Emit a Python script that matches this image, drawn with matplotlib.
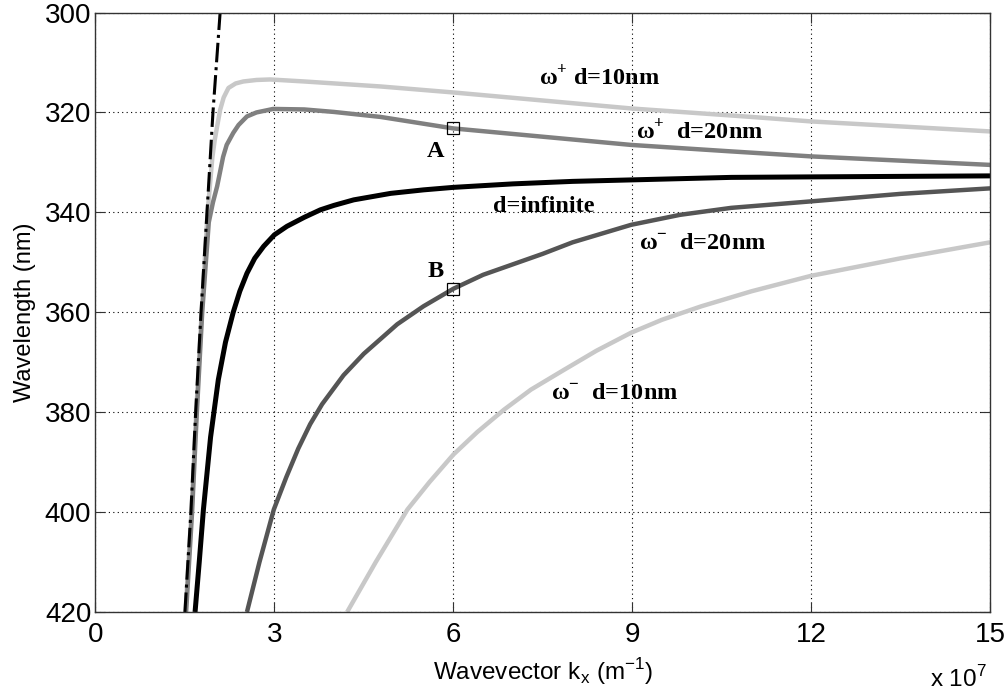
import matplotlib
matplotlib.use("Agg")
import matplotlib.pyplot as plt

# wavevector in units of 1e7 m^-1, wavelength in nm
k_light = [1.50, 1.60, 1.68, 1.77, 1.87, 1.97, 2.09]
wl_light = [420, 400, 380, 360, 340, 320, 300]

k_inf = [1.67, 1.74, 1.81, 1.93, 2.06, 2.18, 2.31, 2.42, 2.54, 2.67, 2.82, 3.0, 3.21, 3.5,
         3.77, 4.0, 4.33, 4.95, 5.5, 6.0, 7.0, 8.0, 9.0, 10.66, 12.0, 15.0]
wl_inf = [420, 410, 399.5, 385, 373.5, 366, 360, 355.8, 352.2, 349.2, 346.8, 344.5, 342.8, 341,
          339.5, 338.6, 337.5, 336.2, 335.5, 335.0, 334.3, 333.8, 333.5, 333.0, 332.9, 332.7]

k_p10 = [1.51, 1.61, 1.69, 1.78, 1.88, 1.96, 2.00, 2.04, 2.09, 2.15, 2.23, 2.35, 2.48, 2.7,
         2.93, 3.5, 4.78, 6.0, 8.98, 11.0, 12.0, 15.0]
wl_p10 = [420, 400, 380, 360, 340, 329, 325.5, 322.8, 319.5, 317, 315.1, 314.2, 313.8, 313.5,
          313.4, 313.8, 314.8, 316.0, 319.2, 320.9, 321.8, 323.8]

k_p20 = [1.52, 1.62, 1.70, 1.79, 1.90, 1.97, 2.04, 2.14, 2.2, 2.31, 2.4, 2.54, 2.7, 2.98,
         3.5, 4.0, 4.78, 6.0, 8.98, 10.66, 12.0, 15.0]
wl_p20 = [420, 400, 380, 360, 342, 338, 334.8, 328.9, 326.5, 324.1, 322.5, 320.8, 320, 319.3,
          319.4, 319.9, 320.9, 323.2, 326.5, 327.8, 328.8, 330.5]

k_m20 = [2.54, 2.75, 2.99, 3.2, 3.4, 3.6, 3.8, 4.16, 4.5, 5.06, 5.5, 6.0, 6.5, 7.5, 8.0,
         8.98, 9.8, 10.66, 12.0, 13.5, 15.0]
wl_m20 = [420, 410, 399.5, 393.0, 387.3, 382.4, 378.4, 372.6, 368.3, 362.4, 358.8, 355.3, 352.5, 348.3, 346,
          342.5, 340.5, 339.1, 337.8, 336.3, 335.2]

k_m10 = [4.22, 4.7, 5.23, 5.6, 6.0, 6.4, 6.85, 7.3, 7.86, 8.4, 8.98, 9.5, 10.16, 11.0, 12.0,
         13.5, 15.0]
wl_m10 = [420, 410, 399.5, 394, 388.5, 384, 379.5, 375.5, 371.5, 367.7, 364.1, 361.5, 358.8,
          355.8, 352.7, 349.2, 346.0]

# marked points A and B
k_marks = [6.0, 6.0]
wl_marks = [323.2, 355.3]

x_ticks = [0, 3, 6, 9, 12, 15]
y_ticks = [300, 320, 340, 360, 380, 400, 420]

fig = plt.figure(figsize=(10.07, 6.96), dpi=100)
ax = fig.add_axes([0.0948, 0.1207, 0.8884, 0.8613])

ax.plot(k_p10, wl_p10, color="#c8c8c8", lw=3.2, solid_capstyle="butt")
ax.plot(k_p20, wl_p20, color="#808080", lw=3.2, solid_capstyle="butt")
ax.plot(k_m20, wl_m20, color="#555555", lw=3.2, solid_capstyle="butt")
ax.plot(k_m10, wl_m10, color="#c8c8c8", lw=3.2, solid_capstyle="butt")
ax.plot(k_inf, wl_inf, color="black", lw=3.6, solid_capstyle="butt")
ax.plot(k_light, wl_light, color="black", lw=2.2, ls="-.")
ax.plot(k_marks, wl_marks, ls="none", marker="s", ms=9, mfc="none", mec="black", mew=0.9)

ax.set_xlim(0, 15)
ax.set_ylim(420, 300)
ax.set_xticks(x_ticks)
ax.set_yticks(y_ticks)

sans = "Liberation Sans"
serif = "Liberation Serif"
ax.set_xticklabels([str(v) for v in x_ticks], fontsize=20, family=sans)
ax.set_yticklabels([str(v) for v in y_ticks], fontsize=20, family=sans)
ax.tick_params(axis="x", pad=7)
ax.tick_params(axis="y", pad=3)
ax.tick_params(direction="in", length=7, width=0.8, top=True, right=True, color="#333333")

ax.grid(True, color="black", ls=(0, (1, 3)), lw=0.8)
for s in ax.spines.values():
    s.set_color("#333333")
    s.set_linewidth(1.0)

ax.set_xlabel(r"Wavevector k$_\mathregular{x}$ (m$^\mathregular{-1}$)", fontsize=17.5, family=sans, labelpad=6)
ax.set_ylabel("Wavelength (nm)", fontsize=17, family=sans, labelpad=6)
fig.text(0.924, 0.013, r"x 10$^\mathregular{7}$", fontsize=17.5, family=sans)

lab = dict(fontsize=17.5, family=serif, weight="bold", va="center")
ax.text(7.44, 313.1, r"ω$^\mathregular{+}$ d=10nm", **lab)
ax.text(9.07, 323.9, r"ω$^\mathregular{+}$  d=20nm", **lab)
ax.text(6.66, 338.9, "d=infinite", **lab)
ax.text(9.12, 346.5, r"ω$^\mathregular{-}$  d=20nm", **lab)
ax.text(7.64, 376.5, r"ω$^\mathregular{-}$  d=10nm", **lab)
ax.text(5.7, 327.9, "A", ha="center", fontsize=17.5, family=serif, weight="bold", va="center")
ax.text(5.7, 351.9, "B", ha="center", fontsize=17.5, family=serif, weight="bold", va="center")

fig.savefig("out.png", dpi=100)
